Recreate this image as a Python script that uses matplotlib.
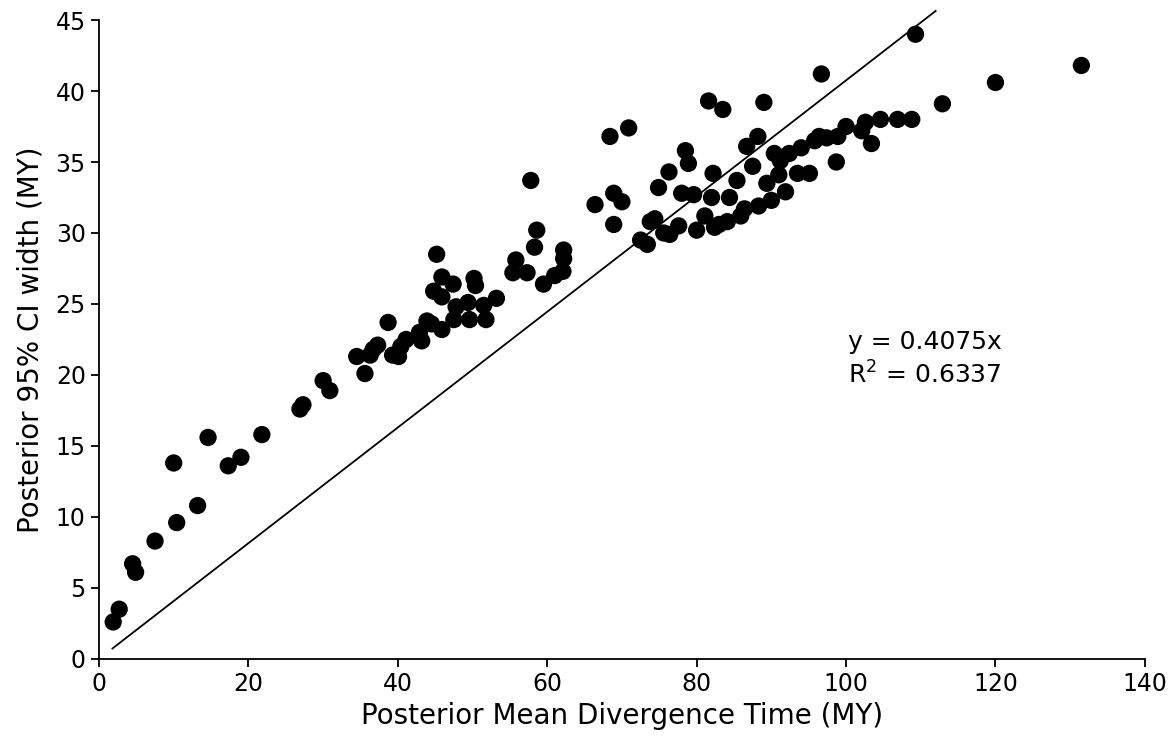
import matplotlib
matplotlib.use("Agg")
import matplotlib.pyplot as plt
import numpy as np

# posterior mean divergence time (MY)
mean_time = [1.9, 2.7, 4.5, 4.9, 7.5, 10.0, 10.4, 13.2, 14.6, 17.3,
             19.0, 21.8, 26.9, 27.3, 30.0, 30.9, 34.5, 35.6, 36.3, 36.7,
             37.3, 38.7, 39.3, 40.1, 40.4, 41.1, 42.9, 43.2, 43.9, 44.5,
             44.8, 45.2, 45.9, 45.9, 45.9, 47.4, 47.5, 47.8, 49.4, 49.6,
             50.2, 50.4, 51.5, 51.8, 53.2, 55.4, 55.8, 57.3, 57.8, 58.3,
             58.6, 59.5, 61.0, 62.1, 62.2, 62.2, 66.4, 68.4, 68.9, 68.9,
             70.0, 70.9, 72.5, 73.4, 73.8, 74.4, 74.9, 75.6, 76.3, 76.4,
             77.6, 78.0, 78.5, 78.9, 79.6, 80.0, 81.1, 81.6, 82.0, 82.2,
             82.4, 83.0, 83.5, 84.1, 84.4, 85.4, 85.9, 86.4, 86.7, 87.5,
             88.2, 88.3, 89.0, 89.4, 90.0, 90.4, 91.0, 91.2, 91.9, 92.4,
             93.5, 94.0, 95.1, 95.8, 96.4, 96.7, 97.4, 98.7, 98.9, 100.0,
             102.1, 102.6, 103.4, 104.6, 106.9, 108.8, 109.3, 112.9, 120.0, 131.5]
# posterior 95% CI width (MY)
ci_width = [2.6, 3.5, 6.7, 6.1, 8.3, 13.8, 9.6, 10.8, 15.6, 13.6,
            14.2, 15.8, 17.6, 17.9, 19.6, 18.9, 21.3, 20.1, 21.4, 21.8,
            22.1, 23.7, 21.4, 21.3, 22.0, 22.5, 23.0, 22.4, 23.8, 23.6,
            25.9, 28.5, 26.9, 25.5, 23.2, 26.4, 23.9, 24.8, 25.1, 23.9,
            26.8, 26.3, 24.9, 23.9, 25.4, 27.2, 28.1, 27.2, 33.7, 29.0,
            30.2, 26.4, 27.0, 27.3, 28.8, 28.2, 32.0, 36.8, 32.8, 30.6,
            32.2, 37.4, 29.5, 29.2, 30.8, 31.0, 33.2, 30.0, 34.3, 29.9,
            30.5, 32.8, 35.8, 34.9, 32.7, 30.2, 31.2, 39.3, 32.5, 34.2,
            30.4, 30.6, 38.7, 30.8, 32.5, 33.7, 31.2, 31.7, 36.1, 34.7,
            36.8, 31.9, 39.2, 33.5, 32.3, 35.6, 34.1, 35.1, 32.9, 35.6,
            34.2, 36.0, 34.2, 36.5, 36.8, 41.2, 36.7, 35.0, 36.8, 37.5,
            37.2, 37.8, 36.3, 38.0, 38.0, 38.0, 44.0, 39.1, 40.6, 41.8]

slope = 0.4075
r2 = 0.6337
fit_range = [1.8, 112.0]

fig = plt.figure(figsize=(11.73, 7.42), dpi=100)
ax = fig.add_axes([0.0844, 0.112, 0.8916, 0.861])

ax.scatter(mean_time, ci_width, s=155, color="black", edgecolors="none", zorder=3)
fx = np.array(fit_range)
ax.plot(fx, slope * fx, color="black", linewidth=1.3, clip_on=False)

ax.set_xlim(0, 140)
ax.set_ylim(0, 45)
ax.set_xticks(np.arange(0, 141, 20))
ax.set_yticks(np.arange(0, 46, 5))

for s in ["top", "right"]:
    ax.spines[s].set_visible(False)
for s in ["left", "bottom"]:
    ax.spines[s].set_linewidth(1.3)
ax.tick_params(direction="out", length=6, width=1.3, labelsize=17)

ax.set_xlabel("Posterior Mean Divergence Time (MY)", fontsize=20, labelpad=4)
ax.set_ylabel("Posterior 95% CI width (MY)", fontsize=20, labelpad=8)

ax.text(100.2, 22.3, "y = 0.4075x", fontsize=18, va="center", ha="left")
ax.text(100.2, 20.0, "R$^{2}$ = %.4f" % r2, fontsize=18, va="center", ha="left")

fig.savefig("out.png", dpi=100)
